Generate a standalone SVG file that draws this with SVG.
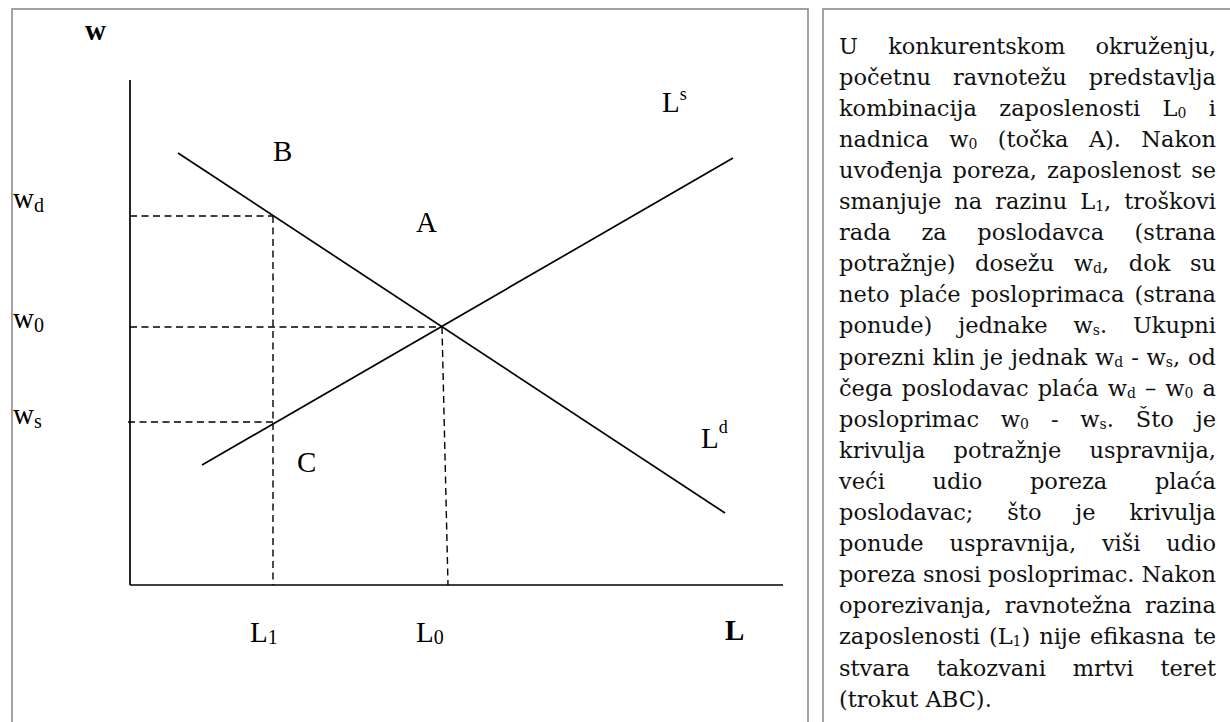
<svg xmlns="http://www.w3.org/2000/svg" width="1230" height="722" viewBox="0 0 1230 722">
<style>
.frame{fill:none;stroke:#8c8c8c;stroke-width:1.6}
.ax{stroke:#000;stroke-width:1.7;fill:none}
.cv{stroke:#000;stroke-width:1.7;fill:none}
.dash{stroke:#000;stroke-width:1.4;stroke-dasharray:7 4.5;fill:none}
.lbl{font-family:"Liberation Serif","Times New Roman",serif;font-size:29px;fill:#000}
.bold{font-weight:bold}
.sm{font-size:20px}
.tx{font-family:"DejaVu Serif","Liberation Serif",serif;font-size:22.5px;fill:#111}
.sb{font-size:14px}
</style>
<rect id="left-panel" class="frame" x="12" y="9" width="796" height="740"/>
<rect id="right-panel" class="frame" x="823" y="9" width="430" height="740"/>

<g id="axes">
<line class="ax" x1="130" y1="80" x2="130" y2="585"/>
<line class="ax" x1="130" y1="585" x2="783" y2="585"/>
</g>

<g id="connectors">
<line id="demand" class="cv" x1="178" y1="153" x2="725" y2="513"/>
<line id="supply" class="cv" x1="202" y1="465" x2="733" y2="158"/>
<line class="dash" x1="130" y1="216" x2="273" y2="216"/>
<line class="dash" x1="273" y1="216" x2="273" y2="585"/>
<line class="dash" x1="130" y1="327" x2="442" y2="327"/>
<line class="dash" x1="442" y1="327" x2="448" y2="585"/>
<line class="dash" x1="128" y1="422" x2="273" y2="422"/>
</g>

<g id="axis-labels">
<text class="lbl bold" x="85" y="40">w</text>
<text class="lbl bold" x="725" y="640">L</text>
<text class="lbl" x="13" y="208">w<tspan class="sm" dy="4">d</tspan></text>
<text class="lbl" x="13" y="328">w<tspan class="sm" dy="4">0</tspan></text>
<text class="lbl" x="13" y="424">w<tspan class="sm" dy="4">s</tspan></text>
<text class="lbl" x="250" y="642">L<tspan class="sm" dy="2">1</tspan></text>
<text class="lbl" x="416" y="642">L<tspan class="sm" dy="2">0</tspan></text>
</g>

<g id="point-labels">
<text class="lbl" x="273" y="161">B</text>
<text class="lbl" x="416" y="232">A</text>
<text class="lbl" x="297" y="472">C</text>
<text class="lbl" x="662" y="112">L<tspan class="sm" dy="-12" style="font-size:18px">s</tspan></text>
<text class="lbl" x="701" y="448">L<tspan class="sm" dy="-15" style="font-size:18px">d</tspan></text>
</g>

<g id="explanation" class="tx">
<text x="839" y="53.5" textLength="377" lengthAdjust="spacing" style="word-spacing:23.2px">U konkurentskom okruženju,</text>
<text x="839" y="84.6" textLength="377" lengthAdjust="spacing" style="word-spacing:15px">početnu ravnotežu predstavlja</text>
<text x="839" y="115.7" textLength="377" lengthAdjust="spacing" style="word-spacing:15.3px">kombinacija zaposlenosti L<tspan class="sb" dy="2">0</tspan><tspan dy="-2"> i</tspan></text>
<text x="839" y="146.8" textLength="377" lengthAdjust="spacing" style="word-spacing:13.3px">nadnica w<tspan class="sb" dy="2">0</tspan><tspan dy="-2"> (točka A). Nakon</tspan></text>
<text x="839" y="177.9" textLength="377" lengthAdjust="spacing" style="word-spacing:3px">uvođenja poreza, zaposlenost se</text>
<text x="839" y="209" textLength="377" lengthAdjust="spacing" style="word-spacing:5.9px">smanjuje na razinu L<tspan class="sb" dy="2">1</tspan><tspan dy="-2">, troškovi</tspan></text>
<text x="839" y="240.1" textLength="377" lengthAdjust="spacing" style="word-spacing:23.4px">rada za poslodavca (strana</text>
<text x="839" y="271.2" textLength="377" lengthAdjust="spacing" style="word-spacing:12.5px">potražnje) dosežu w<tspan class="sb" dy="2">d</tspan><tspan dy="-2">, dok su</tspan></text>
<text x="839" y="302.3" textLength="377" lengthAdjust="spacing" style="word-spacing:3px">neto plaće posloprimaca (strana</text>
<text x="839" y="333.4" textLength="377" lengthAdjust="spacing" style="word-spacing:18.8px">ponude) jednake w<tspan class="sb" dy="2">s</tspan><tspan dy="-2">. Ukupni</tspan></text>
<text x="839" y="364.5" textLength="377" lengthAdjust="spacing" style="word-spacing:0.7px">porezni klin je jednak w<tspan class="sb" dy="2">d</tspan><tspan dy="-2"> - w</tspan><tspan class="sb" dy="2">s</tspan><tspan dy="-2">, od</tspan></text>
<text x="839" y="395.6" textLength="377" lengthAdjust="spacing" style="word-spacing:1.9px">čega poslodavac plaća w<tspan class="sb" dy="2">d</tspan><tspan dy="-2"> – w</tspan><tspan class="sb" dy="2">0</tspan><tspan dy="-2"> a</tspan></text>
<text x="839" y="426.7" textLength="377" lengthAdjust="spacing" style="word-spacing:14.7px">posloprimac w<tspan class="sb" dy="2">0</tspan><tspan dy="-2"> - w</tspan><tspan class="sb" dy="2">s</tspan><tspan dy="-2">. Što je</tspan></text>
<text x="839" y="457.8" textLength="377" lengthAdjust="spacing" style="word-spacing:21px">krivulja potražnje uspravnija,</text>
<text x="839" y="488.9" textLength="377" lengthAdjust="spacing" style="word-spacing:40.6px">veći udio poreza plaća</text>
<text x="839" y="520" textLength="377" lengthAdjust="spacing" style="word-spacing:26.8px">poslodavac; što je krivulja</text>
<text x="839" y="551.1" textLength="377" lengthAdjust="spacing" style="word-spacing:18.7px">ponude uspravnija, viši udio</text>
<text x="839" y="582.2" textLength="377" lengthAdjust="spacing">poreza snosi posloprimac. Nakon</text>
<text x="839" y="613.3" textLength="377" lengthAdjust="spacing" style="word-spacing:6px">oporezivanja, ravnotežna razina</text>
<text x="839" y="644.4" textLength="377" lengthAdjust="spacing" style="word-spacing:1.7px">zaposlenosti (L<tspan class="sb" dy="2">1</tspan><tspan dy="-2">) nije efikasna te</tspan></text>
<text x="839" y="675.5" textLength="377" lengthAdjust="spacing" style="word-spacing:19.6px">stvara takozvani mrtvi teret</text>
<text x="839" y="706.6">(trokut ABC).</text>
</g>
</svg>
